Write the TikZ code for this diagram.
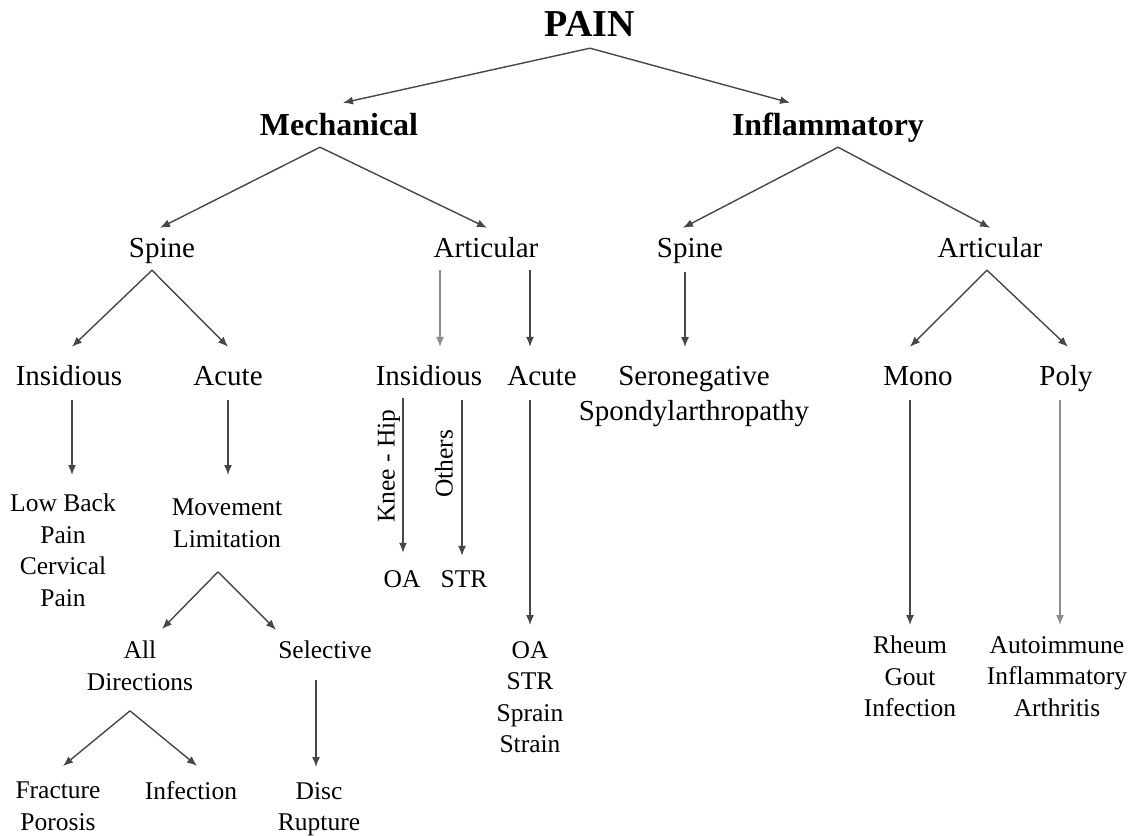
\documentclass[tikz,border=0pt]{standalone}
\usepackage{fontspec}
\setmainfont{Liberation Serif}
\usetikzlibrary{arrows.meta}

\tikzset{
  lbl/.style={inner sep=0pt, anchor=base, text height=20pt, text depth=6pt,
    font=\fontsize{29}{35}\selectfont},
  small/.style={inner sep=0pt, anchor=base, text height=18pt, text depth=5pt,
    font=\fontsize{25.5}{31}\selectfont},
  stack/.style={inner sep=0pt, anchor=north, align=center,
    font=\fontsize{25.5}{31.5}\selectfont},
  head/.style={inner sep=0pt, anchor=base, text height=22pt, text depth=7pt,
    font=\bfseries\fontsize{32}{36}\selectfont},
  arr/.style={draw=black!72, line width=1.4pt, -{Latex[length=10pt,width=8pt]}},
  pale/.style={arr, draw=black!45},
}

\begin{document}
\begin{tikzpicture}[x=1pt, y=-1pt]

\useasboundingbox (0,0) rectangle (1129,835);

\def\ya{36};  % title
\def\yb{135}; % mechanical / inflammatory
\def\yc{257}; % spine / articular
\def\yd{385}; % insidious / acute ...

% upper levels
\node[head, font=\bfseries\fontsize{38}{42}\selectfont, text height=27pt, text depth=0pt] (pain) at (590,\ya) {PAIN};
\node[head] (mech) at (339,\yb) {Mechanical};
\node[head] (infl) at (828,\yb) {Inflammatory};

\node[lbl] (mspine) at (162,\yc) {Spine};
\node[lbl] (mart) at (486,\yc) {Articular};
\node[lbl] (ispine) at (690,\yc) {Spine};
\node[lbl] (iart) at (990,\yc) {Articular};

\node[lbl] (mins) at (69,\yd) {Insidious};
\node[lbl] (macu) at (228,\yd) {Acute};
\node[lbl] (ains) at (429,\yd) {Insidious};
\node[lbl] (aacu) at (542,\yd) {Acute};
\node[stack, font=\fontsize{29}{35}\selectfont] (sero) at (694,366) {Seronegative\\Spondylarthropathy};
\node[lbl] (mono) at (918,\yd) {Mono};
\node[lbl] (poly) at (1066,\yd) {Poly};

% lower levels
\node[stack] (lbp) at (63,494) {Low Back\\Pain\\Cervical\\Pain};
\node[stack] (mlim) at (227,499) {Movement\\Limitation};
\node[stack] (alldir) at (140,641) {All\\Directions};
\node[small] (sel) at (325,658) {Selective};
\node[stack] (frac) at (58,782) {Fracture\\Porosis};
\node[small] (infe) at (191,799) {Infection};
\node[stack] (disc) at (319,782) {Disc\\Rupture};

\node[small] (oa) at (402,587) {OA};
\node[small] (str) at (464,587) {STR};
\node[small, anchor=center, rotate=90] (knee) at (388,466) {Knee - Hip};
\node[small, anchor=center, rotate=90] (others) at (446,464) {Others};
\node[stack] (oasp) at (530,641) {OA\\STR\\Sprain\\Strain};
\node[stack] (rheum) at (910,636) {Rheum\\Gout\\Infection};
\node[stack] (auto) at (1057,636) {Autoimmune\\Inflammatory\\Arthritis};

% connectors
\draw[arr] ([yshift=-12pt]pain.south) -- ([xshift=4pt,yshift=10pt]mech.north);
\draw[arr] ([yshift=-12pt]pain.south) -- ([xshift=-38pt,yshift=10pt]infl.north);

\draw[arr] ([xshift=-19pt,yshift=-5pt]mech.south) -- ([xshift=-2pt,yshift=9pt]mspine.north);
\draw[arr] ([xshift=-19pt,yshift=-5pt]mech.south) -- ([xshift=1pt,yshift=9pt]mart.north);
\draw[arr] ([xshift=10pt,yshift=-5pt]infl.south) -- ([xshift=-7pt,yshift=9pt]ispine.north);
\draw[arr] ([xshift=10pt,yshift=-5pt]infl.south) -- ([yshift=9pt]iart.north);

\draw[arr] ([xshift=-10pt,yshift=-7pt]mspine.south) -- ([xshift=3pt,yshift=18pt]mins.north);
\draw[arr] ([xshift=-10pt,yshift=-7pt]mspine.south) -- ([yshift=18pt]macu.north);
\draw[pale] ([xshift=-46pt,yshift=-7pt]mart.south) -- ([xshift=11pt,yshift=18pt]ains.north);
\draw[arr] ([xshift=44pt,yshift=-7pt]mart.south) -- ([xshift=-12pt,yshift=18pt]aacu.north);
\draw[arr] ([xshift=-5pt,yshift=-9pt]ispine.south) -- ([xshift=-9pt,yshift=19pt]sero.north);
\draw[arr] ([xshift=-3pt,yshift=-7pt]iart.south) -- ([xshift=-8pt,yshift=18pt]mono.north);
\draw[arr] ([xshift=-3pt,yshift=-7pt]iart.south) -- ([xshift=2pt,yshift=18pt]poly.north);

\draw[arr] ([xshift=3pt,yshift=-9pt]mins.south) -- ([xshift=9pt,yshift=19pt]lbp.north);
\draw[arr] ([yshift=-9pt]macu.south) -- ([xshift=1pt,yshift=24pt]mlim.north);
\draw[arr] ([xshift=-26pt,yshift=-7pt]ains.south) -- ([xshift=1pt,yshift=16pt]oa.north);
\draw[arr] ([xshift=33pt,yshift=-9pt]ains.south) -- ([xshift=-2pt,yshift=13pt]str.north);
\draw[arr] ([xshift=-12pt,yshift=-9pt]aacu.south) -- ([yshift=16pt]oasp.north);
\draw[arr] ([xshift=-8pt,yshift=-9pt]mono.south) -- ([yshift=11pt]rheum.north);
\draw[pale] ([xshift=-6pt,yshift=-9pt]poly.south) -- ([xshift=3pt,yshift=11pt]auto.north);

\draw[arr] ([xshift=-9pt,yshift=-24pt]mlim.south) -- ([xshift=22pt,yshift=12pt]alldir.north);
\draw[arr] ([xshift=-9pt,yshift=-24pt]mlim.south) -- ([xshift=-49pt,yshift=10pt]sel.north);
\draw[arr] ([xshift=-10pt,yshift=-20pt]alldir.south) -- ([xshift=5pt,yshift=16pt]frac.north);
\draw[arr] ([xshift=-10pt,yshift=-20pt]alldir.south) -- ([xshift=6pt,yshift=15pt]infe.north);
\draw[arr] ([xshift=-9pt,yshift=-17pt]sel.south) -- ([xshift=-3pt,yshift=15pt]disc.north);

\end{tikzpicture}
\end{document}
